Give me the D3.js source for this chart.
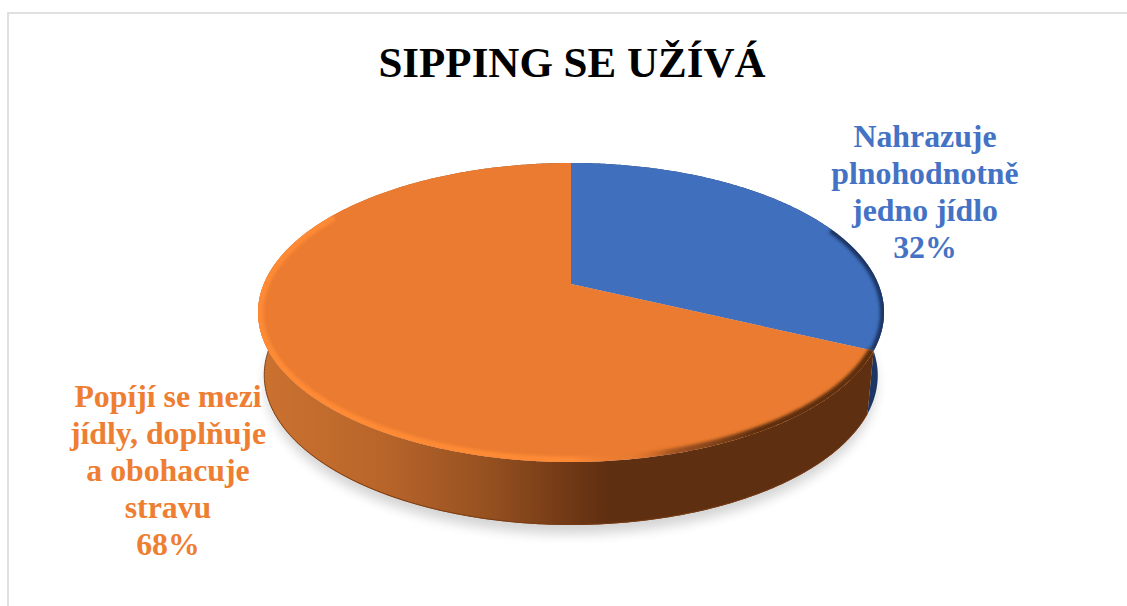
<!DOCTYPE html>
<html><head><meta charset="utf-8">
<style>html,body{margin:0;padding:0;background:#fff;overflow:hidden}svg{display:block}text{font-family:"Liberation Serif",serif;font-weight:bold}</style>
<script src="https://cdnjs.cloudflare.com/ajax/libs/d3/7.8.5/d3.min.js"></script>
</head><body><svg id="c" width="1127" height="606"></svg>
<script>
const titleText = "SIPPING SE UŽÍVÁ";
const categories = ["Nahrazuje plnohodnotně jedno jídlo", "Popíjí se mezi jídly, doplňuje a obohacuje stravu"];
const values = [32, 68];
const labelLines = [["Nahrazuje","plnohodnotně","jedno jídlo","32%"],["Popíjí se mezi","jídly, doplňuje","a obohacuje","stravu","68%"]];
const faceColors = ["#3f6fbd","#ea7b30"];
const textColors = ["#4472c4","#ee7e32"];

const W=1127,H=606, svg=d3.select("#c");
const cx=571, apexY=284, topY=163, botY=462, rx=313, depth=63, wallScale=0.98;
const k=(2*apexY-(topY+botY))/(botY-topY);
const b=botY*(1+k)-apexY;
const a=rx*Math.sqrt(1-k*k);
function proj(t,dy=0,s=1){const X=Math.sin(t),Y=-Math.cos(t),d=1+k*Y;
  return [cx+s*a*X/d, (apexY+b*Y)/d+dy];}
const line=d3.line();
const arcPts=(t0,t1,dy=0,s=1)=>{const n=Math.max(2,Math.ceil(Math.abs(t1-t0)/0.01));
  return d3.range(n+1).map(i=>proj(t0+(t1-t0)*i/n,dy,s));};
const pie=d3.pie().sort(null)(values);

const defs=svg.append("defs");
const f=(id,sd)=>defs.append("filter").attr("id",id).attr("x","-20%").attr("y","-20%").attr("width","140%").attr("height","140%")
  .append("feGaussianBlur").attr("stdDeviation",sd);
f("sh",6);f("rim",1.6);
const grad=(id,stops)=>{const g=defs.append("linearGradient").attr("id",id).attr("gradientUnits","userSpaceOnUse")
  .attr("x1",cx-rx).attr("x2",cx+rx).attr("y1",0).attr("y2",0);
  stops.forEach(s=>g.append("stop").attr("offset",s[0]).attr("stop-color",s[1]).attr("stop-opacity",s[2]===undefined?1:s[2]));};
grad("sideO",[[0,"#cc7230"],[0.2,"#b8652a"],[0.37,"#955020"],[0.5,"#703815"],[0.56,"#5f2f11"],[1,"#5f2f11"]]);
grad("rimO",[[0,"#ff8a36"],[0.5,"#ff8a36"],[0.58,"#f08035",0],[0.66,"#5f2f11",0.5],[0.8,"#5f2f11"],[1,"#5f2f11"]]);
defs.append("clipPath").attr("id","topClip").append("path").attr("d",line(arcPts(0,2*Math.PI))+"Z");

// frame
svg.append("path").attr("d",`M8,${H}V13H${W}`).attr("fill","none").attr("stroke","#e0e0e0").attr("stroke-width",2);

// title
svg.append("text").attr("x",572).attr("y",77).attr("text-anchor","middle").attr("font-size",43).attr("fill","#000").text(titleText);

// ground shadow
svg.append("path").attr("d",line(arcPts(0,2*Math.PI,depth+9,0.975))+"Z").attr("fill","#000").attr("opacity",0.17).attr("filter","url(#sh)");

// side walls
const sideFill=["#1b3664","url(#sideO)"];
pie.forEach((d,i)=>{
  const pts=arcPts(d.startAngle,d.endAngle).concat(arcPts(d.endAngle,d.startAngle,depth,wallScale));
  svg.append("path").attr("d",line(pts)+"Z").attr("fill",sideFill[i]);
});
// dark bottom lip
svg.append("path").attr("d",line(arcPts(pie[1].startAngle,3*Math.PI/2,depth-0.5,wallScale))).attr("fill","none").attr("stroke","#7a3c14").attr("stroke-width",1);

// top faces
const apex=[cx,apexY];
pie.forEach((d,i)=>{
  svg.append("path").attr("d",line([apex,...arcPts(d.startAngle,d.endAngle)])+"Z").attr("fill",faceColors[i]);
});
// bevel rims
const g=svg.append("g").attr("clip-path","url(#topClip)");
g.append("path").attr("d",line(arcPts(pie[1].startAngle,3*Math.PI/2+0.55))).attr("fill","none").attr("stroke","url(#rimO)").attr("stroke-width",11).attr("filter","url(#rim)");
g.append("path").attr("d",line(arcPts(1.15,pie[0].endAngle))).attr("fill","none").attr("stroke","#1b3664").attr("stroke-width",8).attr("filter","url(#rim)");

// labels
const labelX=[925,168], labelY=[147,407], lh=37;
labelLines.forEach((ls,i)=>{
  const t=svg.append("text").attr("text-anchor","middle").attr("font-size",31.8).attr("fill",textColors[i]);
  ls.forEach((s,j)=>t.append("tspan").attr("x",labelX[i]).attr("y",labelY[i]+j*lh).text(s));
});
</script></body></html>
